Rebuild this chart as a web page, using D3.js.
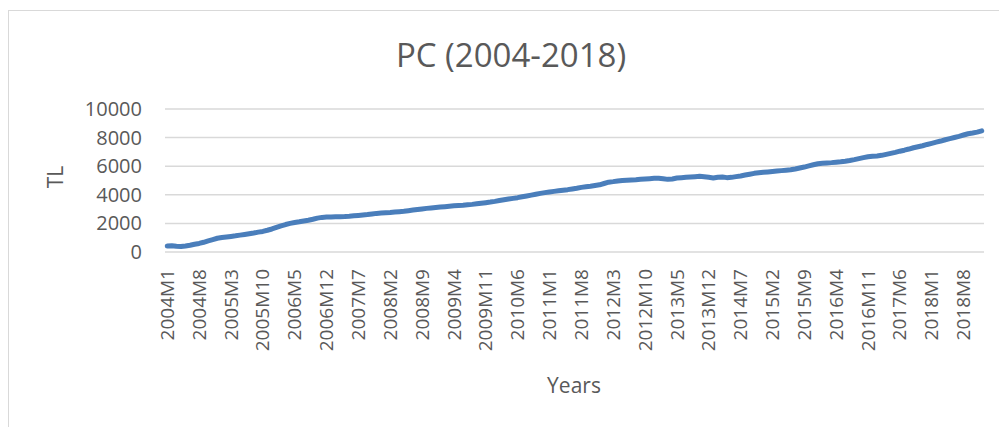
<!DOCTYPE html>
<html>
<head>
	<title>PC (2004-2018)</title>
	<script src="https://d3js.org/d3.v7.min.js" charset="utf-8"></script>
	<style>
		body { margin: 0; background: #fff; }
		text { font-family: "Open Sans", sans-serif; fill: #595959; }
	</style>
</head>
<body>
	<svg width="999" height="427"></svg>
	<script>
		// monthly PC values (TL), one row per year
		const years = d3.range(2004, 2019);
		const values = [
			420, 440, 400, 380, 420, 470, 540, 600, 680, 780, 870, 960,        // 2004
			1010, 1050, 1090, 1130, 1180, 1230, 1280, 1330, 1390, 1440, 1520, 1610, // 2005
			1720, 1830, 1920, 2000, 2060, 2110, 2170, 2220, 2290, 2370, 2420, 2440, // 2006
			2450, 2460, 2470, 2480, 2500, 2530, 2560, 2590, 2620, 2660, 2700, 2720, // 2007
			2740, 2760, 2790, 2820, 2850, 2890, 2930, 2970, 3010, 3050, 3080, 3110, // 2008
			3140, 3170, 3200, 3230, 3250, 3270, 3300, 3330, 3370, 3410, 3450, 3490, // 2009
			3540, 3600, 3650, 3700, 3750, 3800, 3860, 3920, 3980, 4040, 4100, 4150, // 2010
			4200, 4240, 4280, 4320, 4360, 4410, 4460, 4520, 4560, 4600, 4650, 4700, // 2011
			4790, 4880, 4920, 4970, 5000, 5020, 5040, 5060, 5090, 5110, 5130, 5150, // 2012
			5150, 5120, 5080, 5110, 5170, 5200, 5230, 5250, 5270, 5290, 5260, 5220, // 2013
			5180, 5230, 5240, 5200, 5220, 5270, 5320, 5380, 5440, 5500, 5540, 5570, // 2014
			5600, 5630, 5660, 5690, 5720, 5750, 5800, 5870, 5940, 6020, 6100, 6170, // 2015
			6200, 6230, 6250, 6280, 6310, 6350, 6400, 6460, 6530, 6600, 6660, 6700, // 2016
			6720, 6760, 6830, 6900, 6970, 7050, 7120, 7200, 7290, 7360, 7430, 7520, // 2017
			7600, 7680, 7760, 7850, 7930, 8010, 8090, 8180, 8270, 8320, 8380, 8470  // 2018
		];
		const months = [];
		years.forEach(y => d3.range(1, 13).forEach(m => months.push(y + "M" + m)));
		const yTicks = [0, 2000, 4000, 6000, 8000, 10000];

		const plotLeft = 165, plotRight = 984, plotTop = 109, plotBottom = 252;

		const svg = d3.select('svg');

		// chart border (right and bottom edges sit outside the picture)
		svg.append('rect')
			.attr('x', 8.5).attr('y', 10.5)
			.attr('width', 1000).attr('height', 440)
			.attr('fill', 'none')
			.attr('stroke', '#d9d9d9');

		const xScale = d3.scaleBand()
			.domain(months)
			.range([plotLeft, plotRight]);

		const yScale = d3.scaleLinear()
			.domain([0, 10000])
			.range([plotBottom, plotTop]);

		// gridlines
		svg.append('g')
			.selectAll('line')
			.data(yTicks)
			.join('line')
			.attr('x1', plotLeft).attr('x2', plotRight)
			.attr('y1', d => yScale(d)).attr('y2', d => yScale(d))
			.attr('stroke', '#d9d9d9')
			.attr('stroke-width', 1.5);

		// y axis labels
		const yAxis = svg.append('g')
			.attr('transform', `translate(${plotLeft}, 0)`)
			.call(d3.axisLeft(yScale).tickValues(yTicks).tickFormat(d3.format('d'))
				.tickSize(0).tickPadding(23));
		yAxis.select('.domain').remove();
		yAxis.selectAll('text')
			.style('font-size', '20px')
			.attr('fill', '#595959');

		// x axis labels, every 7th month, rotated
		const xAxis = svg.append('g')
			.attr('transform', `translate(0, ${plotBottom})`)
			.call(d3.axisBottom(xScale)
				.tickValues(months.filter((d, i) => i % 7 === 0))
				.tickSize(0));
		xAxis.select('.domain').remove();
		xAxis.selectAll('text')
			.style('font-size', '19px')
			.attr('fill', '#595959')
			.attr('text-anchor', 'end')
			.attr('dy', '0.35em')
			.attr('transform', 'translate(0, 17) rotate(-90)')
			.attr('x', 0).attr('y', 0);

		// the line
		const line = d3.line()
			.x((d, i) => xScale(months[i]) + xScale.bandwidth() / 2)
			.y(d => yScale(d));

		svg.append('path')
			.datum(values)
			.attr('d', line)
			.attr('fill', 'none')
			.attr('stroke', '#4a7ebb')
			.attr('stroke-width', 5)
			.attr('stroke-linecap', 'round')
			.attr('stroke-linejoin', 'round');

		// titles
		svg.append('text')
			.attr('x', 511).attr('y', 67)
			.attr('text-anchor', 'middle')
			.style('font-size', '33px')
			.text('PC (2004-2018)');

		svg.append('text')
			.attr('transform', 'translate(63, 177) rotate(-90)')
			.attr('text-anchor', 'middle')
			.style('font-size', '21px')
			.text('TL');

		svg.append('text')
			.attr('x', 574).attr('y', 393)
			.attr('text-anchor', 'middle')
			.style('font-size', '21px')
			.text('Years');
	</script>
</body>
</html>
